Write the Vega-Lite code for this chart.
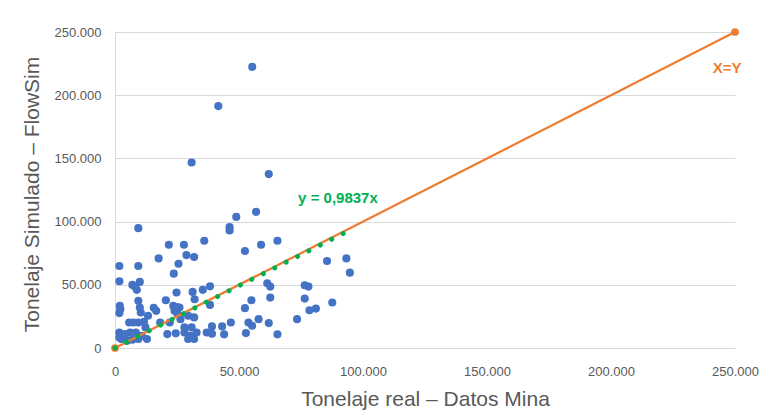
{
  "$schema": "https://vega.github.io/schema/vega-lite/v6.json",
  "width": 620,
  "height": 316,
  "autosize": {"type": "none"},
  "padding": {"left": 115, "top": 32, "right": 25, "bottom": 69},
  "background": "white",
  "config": {
    "view": {"stroke": null},
    "font": "Liberation Sans"
  },
  "datasets": {
    "points": [
      {"real": 55350, "sim": 222400}, {"real": 41660, "sim": 191400}, {"real": 30900, "sim": 146800}, {"real": 62000, "sim": 137600},
      {"real": 56900, "sim": 107700}, {"real": 48900, "sim": 103700}, {"real": 46200, "sim": 95600}, {"real": 46200, "sim": 93000},
      {"real": 9400, "sim": 94800}, {"real": 36000, "sim": 84800}, {"real": 65500, "sim": 84800}, {"real": 21700, "sim": 81700},
      {"real": 27800, "sim": 81700}, {"real": 58900, "sim": 81700}, {"real": 52400, "sim": 76700}, {"real": 28800, "sim": 73500},
      {"real": 31900, "sim": 72000}, {"real": 17600, "sim": 70900}, {"real": 93300, "sim": 70900}, {"real": 85500, "sim": 68800},
      {"real": 25600, "sim": 66700}, {"real": 1760, "sim": 64900}, {"real": 9400, "sim": 64900}, {"real": 94700, "sim": 59600},
      {"real": 23700, "sim": 58800}, {"real": 1760, "sim": 52800}, {"real": 10000, "sim": 52300}, {"real": 7000, "sim": 49900},
      {"real": 8000, "sim": 48600}, {"real": 8800, "sim": 46000}, {"real": 38300, "sim": 48800}, {"real": 61400, "sim": 51200},
      {"real": 62600, "sim": 48600}, {"real": 76500, "sim": 49600}, {"real": 78000, "sim": 48600}, {"real": 35400, "sim": 46000},
      {"real": 31300, "sim": 44400}, {"real": 24800, "sim": 43900}, {"real": 32100, "sim": 38600}, {"real": 76500, "sim": 39100},
      {"real": 62600, "sim": 39900}, {"real": 87600, "sim": 36000}, {"real": 20500, "sim": 37800}, {"real": 55000, "sim": 37800},
      {"real": 9400, "sim": 37300}, {"real": 38300, "sim": 34100}, {"real": 81000, "sim": 31200}, {"real": 78400, "sim": 29900},
      {"real": 52400, "sim": 31500}, {"real": 1950, "sim": 33300}, {"real": 2150, "sim": 30700}, {"real": 1760, "sim": 27600},
      {"real": 10000, "sim": 32000}, {"real": 10400, "sim": 28100}, {"real": 15600, "sim": 31800}, {"real": 16600, "sim": 29400},
      {"real": 23500, "sim": 33300}, {"real": 26000, "sim": 32000}, {"real": 24000, "sim": 29400}, {"real": 25000, "sim": 27600},
      {"real": 73400, "sim": 22800}, {"real": 57900, "sim": 22800}, {"real": 62000, "sim": 19700}, {"real": 53800, "sim": 20200},
      {"real": 55300, "sim": 17600}, {"real": 46700, "sim": 20200}, {"real": 39100, "sim": 17100}, {"real": 43200, "sim": 17100},
      {"real": 37000, "sim": 12300}, {"real": 39100, "sim": 11300}, {"real": 44000, "sim": 10800}, {"real": 52800, "sim": 11800},
      {"real": 65500, "sim": 10800}, {"real": 31900, "sim": 24200}, {"real": 29500, "sim": 25500}, {"real": 1760, "sim": 12300},
      {"real": 1760, "sim": 8400}, {"real": 2540, "sim": 7100}, {"real": 4100, "sim": 11000}, {"real": 5700, "sim": 20200},
      {"real": 7400, "sim": 20200}, {"real": 9400, "sim": 20200}, {"real": 11700, "sim": 20700}, {"real": 13300, "sim": 25500},
      {"real": 12300, "sim": 16300}, {"real": 6100, "sim": 12300}, {"real": 8400, "sim": 12300}, {"real": 10800, "sim": 9700},
      {"real": 12900, "sim": 7100}, {"real": 9400, "sim": 7100}, {"real": 21100, "sim": 11000}, {"real": 24500, "sim": 11600},
      {"real": 28000, "sim": 12300}, {"real": 30300, "sim": 9700}, {"real": 32900, "sim": 12300}, {"real": 29500, "sim": 7100},
      {"real": 31900, "sim": 7100}, {"real": 18200, "sim": 20200}, {"real": 22100, "sim": 20200}, {"real": 26400, "sim": 22800},
      {"real": 28000, "sim": 16300}, {"real": 30900, "sim": 16300}, {"real": 4900, "sim": 5800}, {"real": 7000, "sim": 6600},
      {"real": 25000, "sim": 32400}
    ],
    "xy": [{"real": 0, "sim": 0}, {"real": 250000, "sim": 250000}],
    "trend": [{"real": 0, "sim": 0}, {"real": 92000, "sim": 90500}],
    "labels": [
      {"real": 89900, "sim": 118700, "text": "y = 0,9837x", "kind": "trend"},
      {"real": 246800, "sim": 221500, "text": "X=Y", "kind": "xy"}
    ]
  },
  "encoding": {
    "x": {
      "field": "real", "type": "quantitative",
      "scale": {"domain": [0, 250000], "nice": false, "zero": true},
      "axis": {
        "title": "Tonelaje real – Datos Mina",
        "values": [0, 50000, 100000, 150000, 200000, 250000],
        "labelExpr": "replace(format(datum.value, ','), ',', '.')",
        "grid": false, "ticks": false,
        "domainColor": "#D9D9D9", "domainWidth": 1,
        "labelColor": "#595959", "labelFontSize": 13, "labelPadding": 17,
        "labelOverlap": false, "labelBound": false, "labelFlush": false,
        "titleColor": "#595959", "titleFontSize": 21, "titleFontWeight": "normal",
        "titleX": 310, "titleY": 51, "titleAlign": "center", "titleBaseline": "middle"
      }
    },
    "y": {
      "field": "sim", "type": "quantitative",
      "scale": {"domain": [0, 250000], "nice": false, "zero": true},
      "axis": {
        "title": "Tonelaje Simulado – FlowSim",
        "values": [0, 50000, 100000, 150000, 200000, 250000],
        "labelExpr": "replace(format(datum.value, ','), ',', '.')",
        "grid": true, "gridColor": "#D9D9D9", "gridWidth": 1,
        "ticks": false,
        "domainColor": "#D9D9D9", "domainWidth": 1,
        "labelColor": "#595959", "labelFontSize": 13, "labelPadding": 14,
        "labelOverlap": false, "labelBound": false,
        "titleColor": "#595959", "titleFontSize": 21, "titleFontWeight": "normal",
        "titleX": -83, "titleY": 162, "titleAngle": -90, "titleAlign": "center", "titleBaseline": "middle"
      }
    }
  },
  "layer": [
    {
      "data": {"name": "points"},
      "mark": {"type": "circle", "size": 66, "color": "#4472C4", "opacity": 1}
    },
    {
      "data": {"name": "xy"},
      "mark": {"type": "line", "color": "#ED7D31", "strokeWidth": 2.25, "clip": false},
      "encoding": {}
    },
    {
      "data": {"name": "xy"},
      "mark": {"type": "circle", "size": 60, "color": "#ED7D31", "opacity": 1, "clip": false}
    },
    {
      "data": {"name": "trend"},
      "mark": {"type": "line", "color": "#00B050", "strokeWidth": 5, "strokeCap": "round", "strokeDash": [0.01, 12.75]},
      "encoding": {}
    },
    {
      "data": {"name": "labels"},
      "mark": {"type": "text", "fontSize": 15, "fontWeight": "bold", "align": "center", "baseline": "middle"},
      "encoding": {
        "text": {"field": "text"},
        "color": {"field": "kind", "type": "nominal", "scale": {"domain": ["trend", "xy"], "range": ["#00B050", "#ED7D31"]}, "legend": null}
      }
    }
  ]
}
